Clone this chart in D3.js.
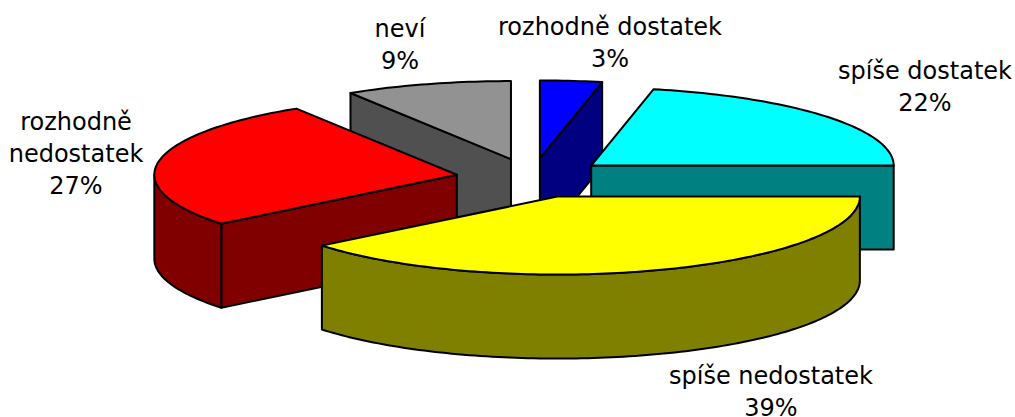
<!DOCTYPE html>
<html>
<head>
<meta charset="utf-8">
<script src="https://cdn.jsdelivr.net/npm/d3@7"></script>
<style>
    html, body { margin: 0; padding: 0; background: #fff; }
    text { font-family: "DejaVu Sans", sans-serif; font-size: 24px; fill: #000; }
</style>
</head>
<body>
<div id="chart"></div>
<script>
// data, clockwise from 12 o'clock
const categories = ["rozhodně dostatek", "spíše dostatek", "spíše nedostatek", "rozhodně nedostatek", "neví"];
const shares = [3.3, 21.7, 39.2, 26.9, 8.9];
const percentLabels = ["3%", "22%", "39%", "27%", "9%"];
const topColors = ["#0000ff", "#00ffff", "#ffff00", "#ff0000", "#929292"];
const sideColors = ["#000080", "#008080", "#808000", "#800000", "#505050"];

const width = 1015, height = 417;
const cx = 532, cy = 178, rx = 302.5, ry = 78, depth = 84, explode = 0.252;

const svg = d3.select("#chart").append("svg")
    .attr("width", width)
    .attr("height", height)
    .style("display", "block");

const pie = d3.pie().sort(null).value(d => d.share)
    .startAngle(0).endAngle(2 * Math.PI);

const slices = pie(categories.map((c, i) => ({
    name: c, share: shares[i], top: topColors[i], side: sideColors[i]
})));

const line = d3.line();

// point on the rim of a slice, angle clockwise from the top
function rim(o, a, dy) {
    return [o[0] + rx * Math.sin(a), o[1] - ry * Math.cos(a) + (dy || 0)];
}

function arcPoints(o, a0, a1, dy) {
    let n = Math.max(2, Math.ceil(Math.abs(a1 - a0) / 0.02));
    return d3.range(n + 1).map(i => rim(o, a0 + (a1 - a0) * i / n, dy));
}

// wall below the rim between a0 and a1
function wall(o, a0, a1) {
    return line(arcPoints(o, a0, a1, 0).concat(arcPoints(o, a1, a0, depth))) + "Z";
}

// flat cut face from the apex out to angle a
function cut(o, a) {
    let p = rim(o, a);
    return line([o, p, [p[0], p[1] + depth], [o[0], o[1] + depth]]) + "Z";
}

slices.forEach(d => {
    let mid = (d.startAngle + d.endAngle) / 2;
    d.origin = [cx + explode * rx * Math.sin(mid), cy - explode * ry * Math.cos(mid)];
});

// back to front
const drawOrder = [4, 0, 1, 3, 2];

// which cut face of each slice turns to the viewer
const visibleCut = ["endAngle", "endAngle", null, "startAngle", "startAngle"];

drawOrder.forEach(i => {
    let d = slices[i], o = d.origin;
    let g = svg.append("g").attr("class", "slice");
    let parts = [];

    if (visibleCut[i]) parts.push(cut(o, d[visibleCut[i]]));

    // outer wall, only the part on the front half
    let a0 = Math.max(d.startAngle, Math.PI / 2);
    let a1 = Math.min(d.endAngle, 3 * Math.PI / 2);
    if (a1 > a0) parts.push(wall(o, a0, a1));

    g.selectAll("path.side")
        .data(parts)
        .join("path")
        .attr("class", "side")
        .attr("d", p => p)
        .attr("fill", d.data.side)
        .attr("stroke", "#000")
        .attr("stroke-width", 2)
        .attr("stroke-linejoin", "round");

    g.append("path")
        .attr("d", line([o].concat(arcPoints(o, d.startAngle, d.endAngle))) + "Z")
        .attr("fill", d.data.top)
        .attr("stroke", "#000")
        .attr("stroke-width", 2)
        .attr("stroke-linejoin", "round");
});

// labels
const labelLines = [["rozhodně dostatek"], ["spíše dostatek"], ["spíše nedostatek"], ["rozhodně", "nedostatek"], ["neví"]];
const labelX = [610, 925, 771, 76, 400];
const labelY = [35, 79, 384, 130, 37];
const lineStep = 32;

slices.forEach((d, i) => {
    let t = svg.append("text")
        .attr("text-anchor", "middle");
    labelLines[i].concat(percentLabels[i]).forEach((s, k) => {
        t.append("tspan")
            .attr("x", labelX[i])
            .attr("y", labelY[i] + k * lineStep)
            .text(s);
    });
});
</script>
</body>
</html>
